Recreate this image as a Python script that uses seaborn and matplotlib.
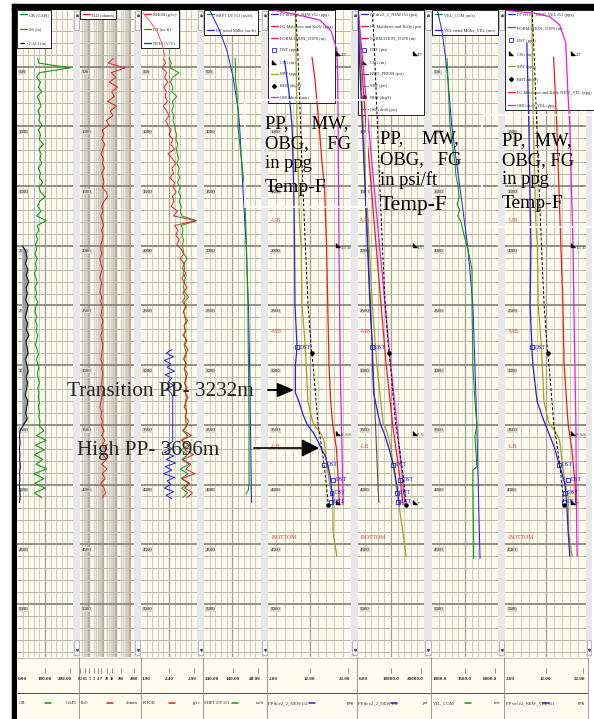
import numpy as np
import matplotlib
matplotlib.use("Agg")
import matplotlib.pyplot as plt
import seaborn as sns
from matplotlib.lines import Line2D
from matplotlib.patches import Rectangle, FancyArrowPatch

sns.set_theme(style="white")
plt.rcParams['font.family'] = ['Liberation Serif', 'DejaVu Serif']

# ---------------- data (depth in m) ----------------
log_depth = np.arange(430, 4111, 40)          # sampling of the raw logs
gr = [74, 78, 190, 80, 70, 84, 76, 88, 72, 80, 86, 74, 82, 78, 90, 76, 84, 80, 94, 78,
      86, 82, 88, 76, 84, 80, 92, 78, 84, 100, 80, 74, 86, 70, 104, 72, 78, 68, 74, 66,
      70, 64, 72, 66, 70, 62, 68, 72, 64, 70, 66, 74, 68, 64, 70, 66, 72, 68, 74, 70,
      66, 72, 76, 70, 74, 78, 72, 76, 80, 74, 78, 76, 80, 76, 80, 78, 82, 80,
      96, 70, 104, 66, 98, 62, 92, 68, 106, 60, 96, 64, 100, 62, 88]
ild = [60, 25, 450, 40, 90, 30, 120, 45, 70, 22, 100, 35, 55, 18, 28,
       9, 12, 8, 14, 10, 7, 11, 9, 13, 8, 10, 12, 9, 18, 22, 12, 8, 10, 7, 9, 11, 8, 10, 9, 7,
       7, 8, 6, 7, 9, 7, 6, 8, 7, 6, 8, 7, 9, 8, 7, 10, 8, 9, 7, 8,
       10, 9, 8, 7, 9, 8, 10, 9, 8, 7, 9, 8, 7, 6, 8, 7, 9, 8,
       12, 8, 14, 9, 16, 10, 18, 8, 20, 9, 15, 7, 12, 16, 9]
rhob = [2.30, 2.34, 2.28, 2.36, 2.32, 2.38, 2.31, 2.35, 2.33, 2.37, 2.30, 2.36, 2.40, 2.34, 2.38,
        2.44, 2.40, 2.47, 2.43, 2.50, 2.38, 2.46, 2.52, 2.45, 2.48, 2.42, 2.50, 2.47, 2.53, 2.46,
        2.49, 2.44, 2.55, 2.48, 2.88, 2.50, 2.56, 2.52, 2.58, 2.54,
        2.62, 2.66, 2.60, 2.68, 2.64, 2.70, 2.63, 2.67, 2.72, 2.65, 2.69, 2.64, 2.71, 2.66, 2.68,
        2.73, 2.67, 2.70, 2.65, 2.72, 2.68, 2.74, 2.69, 2.66, 2.71, 2.67, 2.73, 2.70, 2.68, 2.72,
        2.69, 2.74, 2.70, 2.67, 2.72, 2.69, 2.75, 2.71,
        2.66, 2.80, 2.62, 2.78, 2.68, 2.84, 2.64, 2.79, 2.70, 2.86, 2.63, 2.77, 2.68, 2.82, 2.72]
dt_log = [140, 132, 136, 104, 128, 134, 126, 130, 112, 128, 124, 130, 122, 126, 120,
          118, 112, 116, 108, 114, 110, 106, 112, 104, 108, 102, 110, 100, 106, 98,
          104, 96, 100, 94, 42, 96, 90, 94, 88, 92,
          90, 86, 76, 88, 84, 90, 82, 86, 88, 84, 70, 86, 82, 88, 84, 80, 86, 82, 84, 80,
          86, 82, 78, 84, 80, 84, 82, 78, 84, 80, 82, 78, 82, 80, 78, 82, 80, 78,
          92, 72, 96, 70, 98, 74, 94, 68, 100, 72, 96, 70, 94, 74, 90]

cali_depth = np.arange(2000, 4151, 50)
cali = [9.0, 10.8, 11.4, 10.6, 11.8, 11.0, 12.2, 10.9, 11.5, 10.7, 11.9, 11.2, 10.5, 11.7, 11.0,
        12.3, 10.8, 11.4, 11.9, 10.6, 11.3, 12.0, 10.9, 11.6, 11.1, 10.4, 11.8, 11.2, 10.7, 11.5,
        9.5, 7.6, 7.4, 7.7, 7.3, 7.6, 7.5, 7.8, 7.4, 7.6, 7.3, 7.5, 7.7, 7.4]
ss_depth = [400, 2000, 2000, 3500, 3500, 4150]
ss = [15.0, 15.0, 8.8, 8.8, 7.0, 7.0]
BIT_MID = 8.8

rhob_trend_depth = [50, 120, 200, 300, 420]
rhob_trend = [1.94, 2.06, 2.18, 2.27, 2.33]
nphi_depth = [2870, 2900, 2930, 2960, 2990, 3020, 3050, 3080, 3110, 3140, 3170, 3200, 3230, 3260,
              3400, 3640, 3670, 3700, 3730, 3760, 3790, 3820, 3850, 3880, 3910, 3940, 3970, 4000,
              4030, 4060, 4090, 4120]
nphi = [0.12, 0.18, 0.10, 0.20, 0.13, 0.17, 0.09, 0.19, 0.12, 0.16, 0.10, 0.18, 0.13, 0.11,
        0.11, 0.11, 0.17, 0.12, 0.20, 0.10, 0.18, 0.08, 0.19, 0.12, 0.21, 0.09, 0.17, 0.13,
        0.20, 0.10, 0.18, 0.12]

sdt_depth = [430, 520, 600, 700, 800, 900, 1000, 1200, 1400, 1500, 1700, 2000, 2300, 2500,
             2800, 3000, 3300, 3500, 3800, 4000, 4050, 4080]
sdt = [131, 129, 130, 125, 123, 120, 121, 112, 103, 98, 95, 91, 88, 86, 85, 84, 83, 82, 82, 82, 85, 93]
miller_depth = [30, 84, 200, 360, 586, 862, 1000, 1500, 2000, 2500, 3000, 3500, 4000, 4150]
miller = [220, 208, 185, 160, 138, 120, 115, 104, 92, 84, 80, 77, 74, 73]

# pressure section (ppg)
pp_depth = [450, 700, 1000, 1500, 2000, 2500, 2700, 2850, 3000, 3232, 3300, 3420, 3500, 3570,
            3650, 3696, 3770, 3850, 3935, 4030, 4100, 4170]
pp = [6.0, 7.0, 7.8, 8.2, 8.4, 8.5, 8.8, 9.0, 8.6, 8.6, 9.4, 10.5, 11.5, 13.0, 14.2, 14.8,
      15.9, 16.5, 17.0, 17.3, 17.6, 17.7]
mw_depth = [20, 1000, 1800, 2000, 2500, 2800, 3000, 3300, 3480, 3520, 3560, 3620, 3680, 3790,
            4000, 4100, 4400, 4500, 4600]
mw = [8.6, 9.0, 9.6, 10.0, 10.2, 10.9, 11.2, 11.6, 12.8, 13.6, 14.5, 15.4, 15.7, 16.0, 16.9,
      17.6, 17.7, 18.1, 18.6]
fg_depth = [420, 600, 800, 1030, 1300, 1500, 2000, 2500, 3000, 3300, 3500, 3700, 4000, 4170]
fg = [12.6, 13.3, 13.8, 14.4, 15.0, 15.6, 16.1, 16.4, 16.7, 17.1, 17.6, 18.5, 19.0, 19.2]
obg_depth = [20, 50, 80, 110, 200, 360, 600, 1000, 2000, 3000, 3500, 4000, 4170]
obg = [2.5, 7.0, 11.0, 14.5, 17.2, 18.6, 18.8, 18.9, 19.1, 19.4, 19.7, 20.0, 20.1]
temp_depth = [20, 400, 1000, 1500, 2000, 2500, 2850, 3000, 3500, 3700, 3900, 4170]
temp = [150, 158, 168, 176, 185, 195, 206, 213, 231, 245, 256, 268]
bht_depth = [2900, 4170]
bht = [208, 268]
dst_depth = [2850, 3835, 3960, 4070, 4145]
dst_ppg = [8.9, 15.5, 17.7, 17.3, 17.1]
dst_psi = [4240, 10600, 12730, 11800, 12120]
dst_vel = [8.7, 15.3, 17.6, 16.8, 16.6]
csg_depth = [385, 1995, 3568, 4145]
csg_label = ['20"', '13 3/8"', '9 5/8"', '7"']
tops_depth = [1785, 2720, 3680, 4440]
tops_name = ['UB', 'MB', 'LB', 'BOTTOM']

# pressure section (psi)
pp_psi_depth = [0, 450, 1000, 1500, 2000, 2500, 2850, 3000, 3232, 3420, 3500, 3570, 3696,
                3850, 4030, 4170]
pp_psi = [0, 460, 1330, 2100, 2870, 3630, 4380, 4400, 4740, 6130, 6870, 7920, 9330, 10840,
          11890, 12590]
mw_psi_depth = [0, 1000, 2000, 2500, 3000, 3480, 3560, 3680, 4000, 4600]
mw_psi = [0, 1535, 3410, 4350, 5730, 7600, 8810, 9860, 11530, 14600]
fg_psi_depth = [0, 420, 1030, 1500, 2000, 2500, 3000, 3500, 4000, 4170]
fg_psi = [0, 900, 2530, 3990, 5490, 7000, 8550, 10510, 12970, 13660]
obg_psi_depth = [0, 360, 1000, 2000, 3000, 4000, 4170]
obg_psi = [0, 1140, 3220, 6520, 9930, 13650, 14300]
hyd_depth = [0, 1000, 2000, 3000, 4000, 4150]
hyd = [0, 1500, 3000, 4550, 6060, 6300]

# velocity
vel_depth = [430, 700, 1000, 1200, 1300, 1400, 1500, 1600, 1650, 1700, 1750, 1800, 1900, 2000,
             2100, 2200, 2500, 3000, 3300, 3500, 3600, 3850, 3880, 4000, 4500, 4620]
vel = [2140, 2250, 2360, 2600, 2740, 2800, 2970, 3050, 2900, 3100, 2950, 3200, 3400, 3650,
       3850, 4030, 4030, 4100, 4250, 4400, 4250, 4400, 4100, 4100, 4150, 4150]
velm_depth = [20, 200, 400, 600, 1000, 1500, 2000, 2500, 3000, 3500, 4000, 4620]
velm = [1400, 1750, 2000, 2200, 2500, 3100, 3700, 4100, 4250, 4400, 4500, 4640]

# velocity based pressure (ppg)
ppv_depth = [300, 1000, 2000, 2500, 2900, 3000, 3300, 3450, 3550, 3700, 3800, 3900, 4000,
             4200, 4400, 4600]
ppv = [7.4, 7.9, 8.4, 8.2, 8.7, 8.9, 9.9, 11.4, 12.6, 14.3, 15.1, 16.0, 16.8, 17.3, 17.6, 18.0]
fgv_depth = [420, 1000, 1500, 2000, 2500, 3000, 3500, 3700, 4000, 4170]
fgv = [14.0, 14.8, 15.3, 15.8, 16.3, 16.6, 17.6, 18.5, 19.3, 19.5]
obgv_depth = [30, 50, 80, 150, 300, 700, 1000, 1500, 2000, 2500, 3500, 4000, 4600]
obgv = [2.5, 9.0, 13.0, 15.5, 17.0, 17.5, 18.0, 18.4, 18.8, 19.0, 19.5, 19.6, 19.8]

# footer
foot_names = ['GR', 'ILD', 'RHOB', 'SHPT DT f51', 'PP dt e2_2_NEW f51', 'PP dt e2_2_NEW f51',
              'VEL_COM', 'PP vel e2_NEW_VEL f51']
foot_units = ['GAPI', 'ohmm', 'g/cc', 'us/ft', 'ppg', 'psi', 'm/s', 'ppg']
scale_lbl = [('0.00', '100.00', '200.00'), None, ('1.90', '2.40', '2.90'),
             ('240.00', '140.00', '40.00'), ('2.00', '12.00', '22.00'),
             ('0.00', '10000.0', '20000.0'), ('1000.0', '3500.0', '6000.0'),
             ('2.00', '12.00', '22.00')]
ild_ticks = [0.2, 0.5, 1, 2, 4, 7, 20, 50, 200, 2000]

# ---------------- styling / layout ----------------
W, H = 594, 719
TOP, BOT = 25, 5445
CREAM = '#fdfaee'
GRID_L, GRID_D = '#bcb8ad', '#8b8882'
GREEN, RED, BLUE = '#139a13', '#ee1c1c', '#2323dd'
OLIVE, MAGENTA = '#a2a222', '#e41ee4'
TRI = [(-1, 1), (-1, -1), (1, -1)]
DST_KW = dict(color=BLUE, marker='s', ls='none', markersize=2.4, markerfacecolor='none', markeredgewidth=0.6)
CSG_KW = dict(color='black', marker=TRI, ls='none', markersize=3)
BHT_KW = dict(color='black', marker='D', ls='none', markersize=2)
DASH = (0, (3, 2))

tracks = [(17, 73), (80, 134), (141, 197), (204, 261), (268, 351), (358, 424), (432, 498), (505, 586)]
gaps = [(73, 80), (134, 141), (197, 204), (261, 268), (351, 358), (424, 432), (498, 505), (586, 592)]

fig = plt.figure(figsize=(W / 100, H / 100), dpi=100)
fig.patch.set_facecolor('white')


def fbox(x0, y0, x1, y1):
    return [x0 / W, 1 - y1 / H, (x1 - x0) / W, (y1 - y0) / H]


limits = []


def make_track(i, xlim, log=False):
    x0, x1 = tracks[i]
    ax = fig.add_axes(fbox(x0, 10, x1, 657))
    ax.set_facecolor(CREAM)
    if log:
        ax.set_xscale('log')
    ax.set_xlim(*xlim)
    ax.set_ylim(BOT, TOP)
    for d in range(100, BOT, 100):
        major = d % 500 == 0
        ax.axhline(d, color=GRID_D if major else GRID_L, lw=1.3 if major else 0.7, zorder=0.5)
    if log:
        for dec in [0.1, 1, 10, 100, 1000]:
            for m in range(1, 10):
                v = dec * m
                if xlim[0] < v < xlim[1]:
                    ax.axvline(v, color='#b4b0a8' if m == 1 else '#d3cfc5',
                               lw=1.6 if m == 1 else 1.0, zorder=0.4)
    else:
        for k in range(1, 10):
            v = xlim[0] + (xlim[1] - xlim[0]) * k / 10
            ax.axvline(v, color='#a29e96' if k == 5 else '#cfcbc0', lw=0.9 if k == 5 else 0.7, zorder=0.4)
    for d in range(500, BOT, 500):
        ax.text(0.03, d + 30, str(d), transform=ax.get_yaxis_transform(), fontsize=3.5,
                va='top', ha='left', color='#222222', zorder=1,
                bbox=dict(boxstyle='square,pad=0.08', fc='#dcd9d1', ec='none'))
    ax.tick_params(which='both', length=0, labelbottom=False, labelleft=False)
    for s in ax.spines.values():
        s.set_visible(False)
    limits.append((ax, xlim))
    return ax


def twin(ax, xlim):
    t = ax.twiny()
    t.set_xlim(*xlim)
    t.set_axis_off()
    limits.append((t, xlim))
    return t


def curve(ax, x, y, color, lw=0.8, ls='-', z=3):
    sns.lineplot(x=x, y=y, ax=ax, color=color, lw=lw, linestyle=ls, sort=False, estimator=None,
                 errorbar=None, orient='y', legend=False, zorder=z)


def header(ax, items, spacing):
    handles = [Line2D([], [], label=lab, **kw) for lab, kw in items]
    leg = ax.legend(handles=handles, loc='upper left', bbox_to_anchor=(0, 1), borderaxespad=0,
                    fontsize=3.2, handlelength=1.6, handletextpad=0.4, labelspacing=spacing,
                    borderpad=0.6, fancybox=False, edgecolor='black', facecolor='white', framealpha=1)
    leg.get_frame().set_linewidth(0.6)
    leg.set_zorder(1.5)


def line_kw(c, ls='-'):
    return dict(color=c, lw=0.9, ls=ls)


def tops(ax):
    for d, name in zip(tops_depth, tops_name):
        ax.text(0.03, d, '-' + name, transform=ax.get_yaxis_transform(), color='#e23a3a',
                fontsize=4.2, va='center', zorder=4)


def casing(ax, xpos):
    ax.plot([xpos] * len(csg_depth), csg_depth, transform=ax.get_yaxis_transform(), marker=TRI,
            ls='none', color='black', ms=3.2, zorder=4)
    for d, lab in zip(csg_depth, csg_label):
        ax.text(xpos + 0.035, d + 20, lab, transform=ax.get_yaxis_transform(), fontsize=3.4,
                va='center', clip_on=True, zorder=4)


def dst(ax, vals):
    ax.scatter(vals, dst_depth, marker='s', s=8, facecolors='none', edgecolors=BLUE,
               linewidths=0.6, zorder=5)
    for v, d in zip(vals, dst_depth):
        ax.annotate('DST', (v, d), xytext=(2.2, 0), textcoords='offset points', fontsize=4.3,
                    color=BLUE, va='center', zorder=5)


# ---------------- background: frame, scroll bars, footer ----------------
bg = fig.add_axes([0, 0, 1, 1], zorder=-5)
bg.set_xlim(0, W)
bg.set_ylim(H, 0)
bg.set_axis_off()
bg.add_patch(Rectangle((12, 4), W - 12, 6, color='black'))
bg.add_patch(Rectangle((12, 4), 5, H - 4, color='black'))
for g0, g1 in gaps:
    bg.add_patch(Rectangle((g0, 10), g1 - g0, 647, fc='#e8e8e8', ec='none'))
    bg.add_patch(Rectangle((g0 + 0.7, 11), g1 - g0 - 1.4, 19, fc='#f6f6f6', ec='#a0a0a0', lw=0.5))
    bg.add_patch(Rectangle((g0 + 0.7, 640), g1 - g0 - 1.4, 15, fc='#f6f6f6', ec='#a0a0a0', lw=0.5))
    bg.plot((g0 + g1) / 2, 15, marker='^', ms=1.4, color='#555555')
    bg.plot((g0 + g1) / 2, 650, marker='v', ms=1.4, color='#555555')

cols = [17, 79, 141, 203, 267, 357, 431, 504, 588]
bg.add_patch(Rectangle((17, 657), 571, 62, fc=CREAM, ec='none'))
bg.plot([17, 588], [657.5, 657.5], color='#b0b0b0', lw=0.6)
bg.plot([17, 588], [693, 693], color='#505050', lw=0.7)
for x in cols[1:]:
    bg.plot([x, x], [657, 719], color='#8a8a8a', lw=0.6)
fcolors = [GREEN, RED, RED, GREEN, BLUE, BLUE, GREEN, BLUE]
for i, (tx0, tx1) in enumerate(tracks):
    if scale_lbl[i] is None:
        for v in ild_ticks:
            x = tx0 + np.log10(v / 0.2) / 4 * (tx1 - tx0)
            bg.plot([x, x], [668, 673], color='#444444', lw=0.4)
            bg.text(x, 679, f'{v:g}', fontsize=3.0, ha='center', va='center', weight='bold')
    else:
        lo, mid, hi = scale_lbl[i]
        for x, s, ha in [(tx0 + 0.5, lo, 'left'), ((tx0 + tx1) / 2, mid, 'center'), (tx1 - 0.5, hi, 'right')]:
            bg.text(x, 679, s, fontsize=3.6, ha=ha, va='center', weight='bold')
        for x in [(tx0 + tx1) / 2, tx1 - 3]:
            bg.plot([x, x], [668, 673], color='#444444', lw=0.4)
    c0, c1 = cols[i], cols[i + 1]
    xc = (c0 + c1) / 2
    bg.text(c0 + 1.5, 703, foot_names[i], fontsize=3.3, ha='left', va='center')
    bg.plot([xc - 3, xc + 3], [703, 703], color=fcolors[i], lw=1.1)
    bg.text(c1 - 3, 703, foot_units[i], fontsize=3.3, ha='right', va='center')

# ---------------- track 1: GR / CALI ----------------
ax1 = make_track(0, (0, 200))
curve(ax1, gr, log_depth, GREEN, 0.8)
t1 = twin(ax1, (6, 36))
t1.fill_betweenx(cali_depth[:31], BIT_MID, cali[:31], color='#9c9c9c', lw=0, zorder=2)
curve(t1, ss, ss_depth, '#a9c2ea', 0.8)
curve(t1, cali, cali_depth, 'black', 0.7)
header(ax1, [('GR (GAPI)', line_kw(GREEN)), ('SS (in)', line_kw('#c03030')),
             ('CALI (in)', line_kw('black', '--'))], 2.3)

# ---------------- track 2: ILD ----------------
ax2 = make_track(1, (0.2, 2000), log=True)
curve(ax2, ild, log_depth, RED, 0.7)
header(ax2, [('ILD (ohmm)', line_kw(RED))], 1)

# ---------------- track 3: RHOB / DT / NPHI ----------------
ax3 = make_track(2, (1.90, 2.90))
curve(ax3, rhob_trend, rhob_trend_depth, '#ee6060', 0.7)
t3a = twin(ax3, (240, 40))
curve(t3a, dt_log, log_depth, GREEN, 0.7)
t3c = twin(ax3, (1.90, 2.90))
curve(t3c, rhob, log_depth, RED, 0.7)
t3b = twin(ax3, (0.45, -0.15))
curve(t3b, nphi, nphi_depth, BLUE, 0.7)
header(ax3, [('RHOB (g/cc)', line_kw(RED)), ('DT (us/ft)', line_kw(GREEN)),
             ('NPHI (V/V)', line_kw(BLUE))], 2.3)

# ---------------- track 4: sonic ----------------
ax4 = make_track(3, (240, 40))
curve(ax4, miller, miller_depth, BLUE, 0.7)
curve(ax4, sdt, sdt_depth, GREEN, 0.8)
header(ax4, [('SHPT DT f51 (us/ft)', line_kw(GREEN)), ('DT trend Miller (us/ft)', line_kw(BLUE))], 2.6)

# ---------------- track 5: pressures in ppg ----------------
ax5 = make_track(4, (2, 22))
curve(ax5, obg, obg_depth, MAGENTA, 0.9)
curve(ax5, fg, fg_depth, RED, 0.9)
curve(ax5, mw, mw_depth, OLIVE, 0.9)
curve(ax5, pp, pp_depth, BLUE, 0.9)
t5 = twin(ax5, (50, 350))
curve(t5, temp, temp_depth, 'black', 0.7, ls=DASH)
t5.scatter(bht, bht_depth, marker='o', s=5, color='black', zorder=5)
dst(ax5, dst_ppg)
casing(ax5, 0.84)
tops(ax5)
header(ax5, [('PP dt e2_2_NEW f51 (ppg)', line_kw(BLUE)), ('FG Matthews and Kelly (ppg)', line_kw(RED)),
             ('FORMATION_TOPS (m)', line_kw(RED)), ('DST (ppg)', DST_KW), ('CSG (in)', CSG_KW),
             ('MW (ppg)', line_kw(OLIVE)), ('BHT (degF)', BHT_KW), ('OBG dtob (ppg)', line_kw(MAGENTA))], 1.75)

# ---------------- track 6: pressures in psi ----------------
ax6 = make_track(5, (0, 20000))
curve(ax6, hyd, hyd_depth, '#505050', 0.8)
curve(ax6, obg_psi, obg_psi_depth, MAGENTA, 0.9)
curve(ax6, fg_psi, fg_psi_depth, RED, 0.9)
curve(ax6, mw_psi, mw_psi_depth, OLIVE, 0.9)
curve(ax6, pp_psi, pp_psi_depth, BLUE, 0.9)
t6 = twin(ax6, (100, 330))
curve(t6, temp, temp_depth, 'black', 0.7, ls=DASH)
t6.scatter(bht, bht_depth, marker='o', s=5, color='black', zorder=5)
dst(ax6, dst_psi)
casing(ax6, 0.86)
tops(ax6)
header(ax6, [('PP dt e2_2_NEW f51 (psi)', line_kw(BLUE)), ('FG Matthews and Kelly (psi)', line_kw(RED)),
             ('FORMATION_TOPS (m)', line_kw(RED)), ('DST (psi)', DST_KW), ('CSG (in)', CSG_KW),
             ('HYD_PRESS (psi)', line_kw('#505050')), ('MW (psi)', line_kw(OLIVE)),
             ('BHT (degF)', BHT_KW), ('OBG dtob (psi)', line_kw(MAGENTA))], 1.75)

# ---------------- track 7: velocity ----------------
ax7 = make_track(6, (1000, 6000))
curve(ax7, velm, velm_depth, BLUE, 0.7)
curve(ax7, vel, vel_depth, GREEN, 0.8)
header(ax7, [('VEL_COM (m/s)', line_kw(GREEN)), ('VEL trend Miller_VEL (m/s)', line_kw(BLUE))], 2.6)

# ---------------- track 8: velocity based pressures ----------------
ax8 = make_track(7, (2, 22))
curve(ax8, obgv, obgv_depth, MAGENTA, 0.9)
curve(ax8, fgv, fgv_depth, RED, 0.9)
curve(ax8, mw, mw_depth, OLIVE, 0.9)
curve(ax8, ppv, ppv_depth, BLUE, 0.9)
t8 = twin(ax8, (50, 350))
curve(t8, temp, temp_depth, 'black', 0.7, ls=DASH)
t8.scatter(bht, bht_depth, marker='o', s=5, color='black', zorder=5)
dst(ax8, dst_vel)
casing(ax8, 0.84)
tops(ax8)
header(ax8, [('PP vel e2_NEW_VEL f51 (ppg)', line_kw(BLUE)), ('FORMATION_TOPS (m)', line_kw(RED)),
             ('DST (ppg)', DST_KW), ('CSG (in)', CSG_KW), ('MW (ppg)', line_kw(OLIVE)),
             ('BHT (degF)', BHT_KW), ('FG Matthews and Kelly NEW_VEL (ppg)', line_kw(RED)),
             ('OBG dtob_VEL (ppg)', line_kw(MAGENTA))], 2.0)

for a, xl in limits:
    a.set_xlim(*xl)
    a.set_ylim(BOT, TOP)

# ---------------- overlay annotations ----------------
ov = fig.add_axes([0, 0, 1, 1], zorder=20)
ov.set_xlim(0, W)
ov.set_ylim(H, 0)
ov.set_axis_off()
ov.patch.set_alpha(0)
ov.add_patch(Rectangle((245, 100), 122, 107, fill=False, ec='white', lw=1.2))
ov.add_patch(Rectangle((482, 115), 115, 112, fill=False, ec='white', lw=1.2))

big = 13.3
for x, lines in [(265, [(128, 'PP,     MW,', big), (148, 'OBG,    FG', big), (168, 'in ppg', big), (192, 'Temp-F', 14)]),
                 (380, [(143, 'PP,    MW,', big), (164, 'OBG,   FG', big), (185, 'in psi/ft', big), (210, 'Temp-F', 15.5)]),
                 (502, [(145, 'PP,  MW,', big), (165, 'OBG, FG', big), (184, 'in ppg', big), (208, 'Temp-F', 14)])]:
    for y, s, fs in lines:
        ov.text(x, y, s, fontsize=fs, va='baseline', ha='left', color='black')

ov.text(67, 396, 'Transition PP- 3232m', fontsize=15.3, va='baseline', ha='left')
ov.text(77, 455, 'High PP- 3696m', fontsize=15.3, va='baseline', ha='left')
ov.add_patch(FancyArrowPatch((268, 390), (294, 390), arrowstyle='-|>,head_length=10,head_width=4.3',
                             mutation_scale=1, lw=1.4, color='black', shrinkA=0, shrinkB=0))
ov.add_patch(FancyArrowPatch((254, 448), (319, 448), arrowstyle='-|>,head_length=10.5,head_width=5.4',
                             mutation_scale=1, lw=1.2, color='black', shrinkA=0, shrinkB=0))

fig.savefig('out.png', dpi=100, facecolor='white')
